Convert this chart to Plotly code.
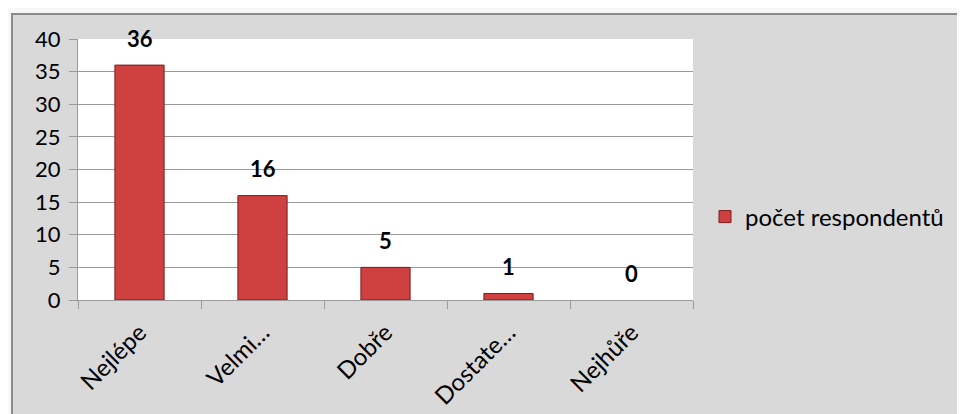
import plotly.graph_objects as go

categories = ["Nejlépe", "Velmi…", "Dobře", "Dostate…", "Nejhůře"]
respondents = [36, 16, 5, 1, 0]
series_name = "počet respondentů"
y_ticks = [0, 5, 10, 15, 20, 25, 30, 35, 40]

FONT = "Lato, Calibri, sans-serif"
GRID = "#9a9a9a"
FS = 22

fig = go.Figure()
fig.add_trace(
    go.Bar(
        x=categories,
        y=respondents,
        name=series_name,
        marker=dict(
            color="#cf4141",
            line=dict(color="#7a1c1c", width=[1 if v > 0 else 0 for v in respondents]),
        ),
        showlegend=True,
    )
)

# value labels above bars
for cat, val in zip(categories, respondents):
    fig.add_annotation(
        x=cat, y=val, text=f"<b>{val}</b>", showarrow=False,
        yshift=27, font=dict(family=FONT, size=FS, color="black"),
    )

# grey chart area with border, white plot area
fig.add_shape(
    type="rect", xref="paper", yref="paper",
    x0=-0.1073, x1=1.45, y0=-0.45, y1=1.0958,
    fillcolor="#d9d9d9", line=dict(color="#8a8a8a", width=2), layer="below",
)
fig.add_shape(
    type="rect", xref="paper", yref="paper",
    x0=0, x1=1, y0=0, y1=1,
    fillcolor="white", line=dict(width=0), layer="below",
)

# page body has an 8px margin, so the figure is sized to fit the window
fig.update_layout(
    width=957,
    height=406,
    margin=dict(l=70, r=272, t=31, b=114),
    paper_bgcolor="#f7f7f7",
    plot_bgcolor="white",
    bargap=0.6,
    font=dict(family=FONT, size=FS, color="black"),
    showlegend=True,
    legend=dict(
        x=1.0195, y=0.318, xanchor="left", yanchor="middle",
        bgcolor="rgba(0,0,0,0)", font=dict(size=24),
        itemwidth=30,
    ),
)
fig.update_xaxes(
    automargin=False,
    tickangle=-45,
    ticks="outside", ticklen=8, tickcolor=GRID,
    tickson="boundaries",
    showline=True, linecolor=GRID, linewidth=1,
    showgrid=False,
    ticklabelstandoff=8,
    tickfont=dict(family=FONT, size=24),
)
fig.update_yaxes(
    automargin=False,
    range=[0, 40],
    tickvals=y_ticks,
    ticks="outside", ticklen=8, tickcolor=GRID,
    showline=True, linecolor=GRID, linewidth=1,
    showgrid=True, gridcolor=GRID, gridwidth=1,
    zeroline=False,
    ticklabelstandoff=4,
    tickfont=dict(family=FONT, size=FS),
)

fig.write_html("out.html")
